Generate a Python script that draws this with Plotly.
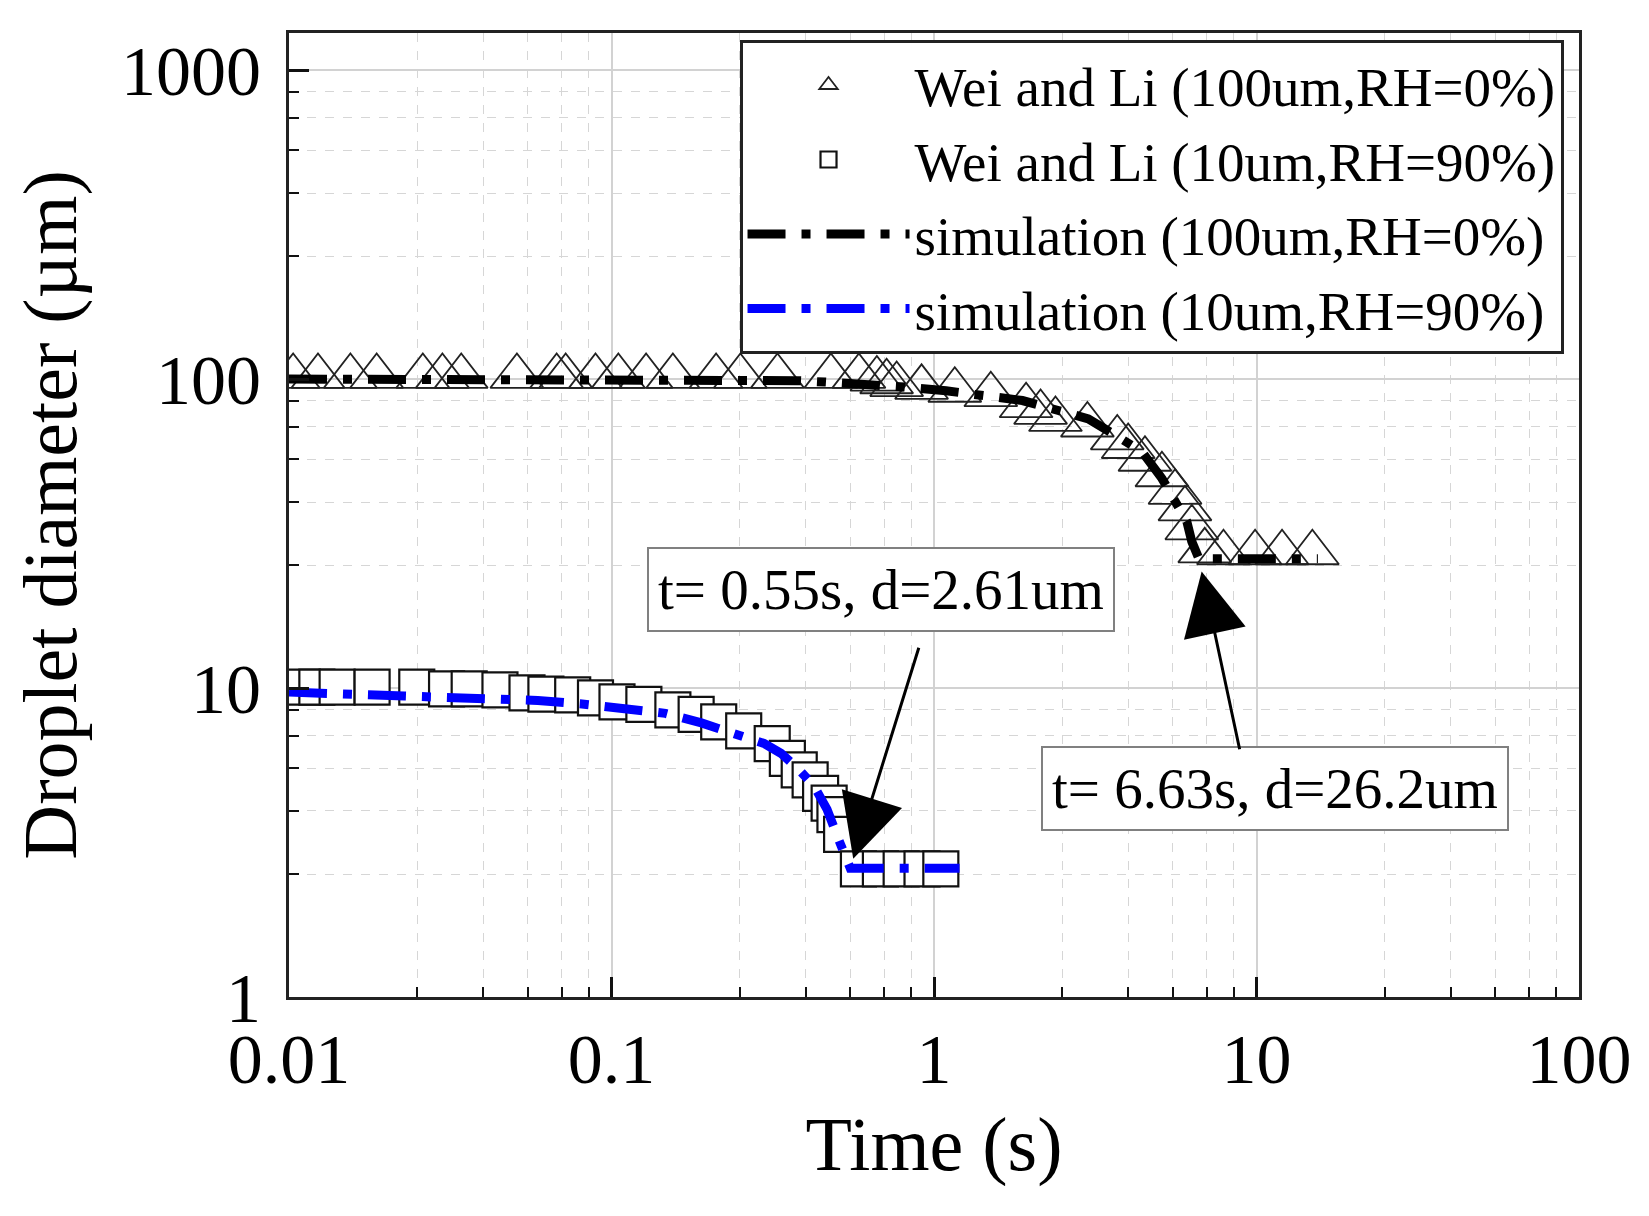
import math
import plotly.graph_objects as go

# Wei and Li, 100 um droplet, RH = 0 %  (triangles)
wei100_t = [0.0103, 0.0123, 0.0155, 0.0187, 0.0260, 0.0299, 0.0342, 0.0509, 0.0676, 0.0721,
            0.0892, 0.105, 0.128, 0.155, 0.211, 0.251, 0.327, 0.479, 0.585, 0.665,
            0.713, 0.766, 0.915, 1.16, 1.50, 1.93, 2.14, 2.38, 2.99, 3.70,
            4.00, 4.51, 5.09, 5.59, 6.00, 6.30, 6.91, 7.9, 9.9, 12.0, 14.9]
wei100_d = [102, 102, 102, 102, 102, 102, 102, 102, 102, 102,
            102, 102, 102, 102, 102, 102, 102, 102, 102, 100,
            98, 96, 94, 92, 89, 82, 78, 74, 71, 64.5,
            60.5, 55, 49, 43, 38, 33, 27.8, 27.4, 27.4, 27.4, 27.4]

# Wei and Li, 10 um droplet, RH = 90 %  (squares)
wei10_t = [0.0110, 0.0122, 0.0141, 0.0181, 0.0249, 0.0308, 0.0362, 0.0451, 0.0547, 0.0626,
           0.0758, 0.0892, 0.104, 0.126, 0.155, 0.183, 0.215, 0.257, 0.315, 0.351,
           0.382, 0.413, 0.445, 0.473, 0.493, 0.517, 0.583, 0.682, 0.791, 0.918, 1.05]
wei10_d = [10.07, 10.07, 10.07, 10.07, 10.07, 9.93, 9.93, 9.86, 9.64, 9.55,
           9.5, 9.29, 9.02, 8.85, 8.5, 8.22, 7.77, 7.27, 6.61, 5.92,
           5.43, 5.04, 4.56, 4.24, 3.89, 3.36, 2.6, 2.6, 2.6, 2.6, 2.6]

# simulation, 100 um, RH = 0 %
sim100_t = [0.01, 0.1, 0.3, 0.377, 0.459, 0.605, 0.81, 1.09, 1.47, 1.88, 2.43, 3.01,
            3.72, 4.42, 5.09, 5.7, 6.08, 6.3, 6.63, 10, 15.5]
sim100_d = [100, 99.8, 99.2, 98.8, 97.8, 96.4, 94.3, 91.6, 88.3, 85.2, 79.1, 74.3,
            65, 58.1, 47.7, 39.1, 34.6, 29.8, 26.2, 26.2, 26.2]

# simulation, 10 um, RH = 90 %
sim10_t = [0.01, 0.0123, 0.0169, 0.0228, 0.0316, 0.0427, 0.0591, 0.0798, 0.108, 0.147,
           0.190, 0.241, 0.297, 0.335, 0.377, 0.425, 0.466, 0.501, 0.55, 0.8, 1.2]
sim10_d = [9.7, 9.67, 9.52, 9.42, 9.35, 9.3, 9.12, 8.9, 8.65, 8.28,
           7.71, 7.13, 6.62, 6.15, 5.51, 4.81, 4.05, 3.32, 2.61, 2.61, 2.61]

# call-outs: (time s, diameter um)
callouts = [(0.55, 2.61), (6.63, 26.2)]

x_major = [0.01, 0.1, 1, 10, 100]
x_labels = ["0.01", "0.1", "1", "10", "100"]
y_major = [1, 10, 100, 1000]
y_labels = ["1", "10", "100", "1000"]
minor_steps = [2.5, 4, 5.5, 7, 8.5]

SERIF = "Liberation Serif, Times New Roman, serif"
DASH = "38px,16px,9px,16px"

fig = go.Figure()
fig.add_trace(go.Scatter(
    x=wei100_t, y=wei100_d, mode="markers", name="Wei and Li (100um,RH=0%)",
    marker=dict(symbol="triangle-up-open", size=46, color="#222",
                line=dict(width=1.8, color="#222"))))
fig.add_trace(go.Scatter(
    x=wei10_t, y=wei10_d, mode="markers", name="Wei and Li (10um,RH=90%)",
    marker=dict(symbol="square", size=35, color="white",
                line=dict(width=2.2, color="#111"))))
fig.add_trace(go.Scatter(
    x=sim100_t, y=sim100_d, mode="lines", name="simulation (100um,RH=0%)",
    line=dict(color="black", width=9, dash=DASH)))
fig.add_trace(go.Scatter(
    x=sim10_t, y=sim10_d, mode="lines", name="simulation (10um,RH=90%)",
    line=dict(color="#0000ff", width=9, dash=DASH)))

minor_x = [m * 10 ** e for e in range(-2, 2) for m in minor_steps]
minor_y = [m * 10 ** e for e in range(0, 4) for m in minor_steps]

axis_common = dict(
    type="log", showline=True, linewidth=3, linecolor="#222", mirror=True,
    ticks="inside", ticklen=20, tickwidth=2.5, tickcolor="#111",
    showgrid=True, gridcolor="#d2d2d2", gridwidth=1.5,
    tickfont=dict(family=SERIF, size=70, color="black"),
    title_font=dict(family=SERIF, size=76, color="black"),
    zeroline=False,
)

fig.update_xaxes(
    range=[-2, 2], tickmode="array", tickvals=x_major, ticktext=x_labels,
    minor=dict(tickmode="array", tickvals=minor_x, ticks="inside", ticklen=10,
               tickwidth=2, tickcolor="#111", showgrid=True, gridcolor="#d6d6d6",
               griddash="dash", gridwidth=1.2),
    ticklabelstandoff=-1,
    title=dict(text="Time (s)", standoff=20),
    **axis_common)
fig.update_yaxes(
    range=[0, 3.12], tickmode="array", tickvals=y_major, ticktext=y_labels,
    minor=dict(tickmode="array", tickvals=minor_y, ticks="inside", ticklen=10,
               tickwidth=2, tickcolor="#111", showgrid=True, gridcolor="#d6d6d6",
               griddash="dash", gridwidth=1.2),
    ticklabelstandoff=11,
    title=dict(text="Droplet diameter (µm)", standoff=20),
    **axis_common)

# text boxes and arrows
box_pos = [(0.459, 0.423), (0.764, 0.216)]
arrow_off = [(69, -222, 10), (41, 192, 13)]
for (t, d), (bx, by), (ax, ay, so) in zip(callouts, box_pos, arrow_off):
    fig.add_annotation(
        xref="paper", yref="paper", x=bx, y=by, xanchor="center", yanchor="middle",
        showarrow=False, text=f"t= {t}s, d={d}um",
        font=dict(family=SERIF, size=57, color="black"),
        bgcolor="white", bordercolor="#808080", borderwidth=2, borderpad=9)
    fig.add_annotation(
        xref="x", yref="y", x=math.log10(t), y=math.log10(d), text="",
        showarrow=True, arrowhead=2, arrowsize=4.2, arrowwidth=3,
        arrowcolor="black", ax=ax, ay=ay, standoff=so)

fig.update_layout(
    width=1649, height=1216,
    margin=dict(l=281, r=78, t=25, b=227),
    plot_bgcolor="white", paper_bgcolor="white",
    font=dict(family=SERIF, color="black"),
    legend=dict(
        x=0.988, y=0.993, xanchor="right", yanchor="top",
        bgcolor="white", bordercolor="#222", borderwidth=3,
        font=dict(family=SERIF, size=55, color="black"),
        itemwidth=162, tracegroupgap=0),
    showlegend=True,
)

fig.write_html("out.html")
